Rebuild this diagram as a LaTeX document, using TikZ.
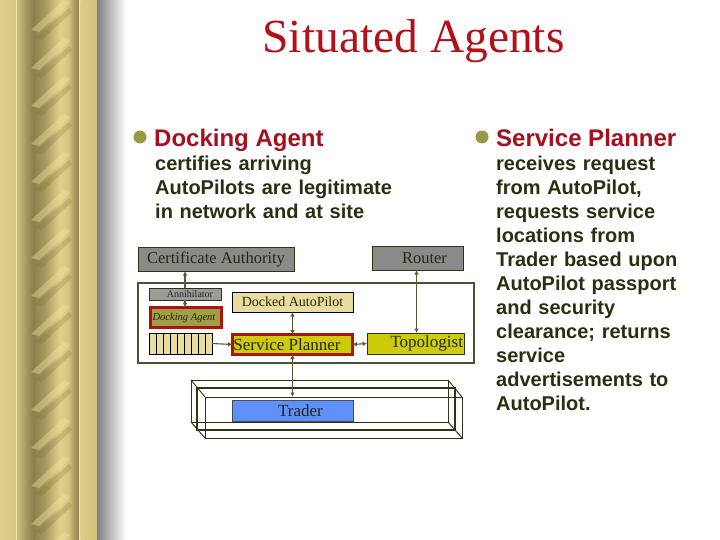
\documentclass[tikz,border=0pt]{standalone}
\usepackage{fontspec}
\setmainfont{Liberation Serif}
\newfontfamily\arialfont{Liberation Sans}
\usetikzlibrary{arrows.meta}
\definecolor{titlered}{RGB}{180,16,24}
\definecolor{headred}{RGB}{165,15,30}
\definecolor{bodytxt}{RGB}{45,45,18}
\definecolor{bulletolive}{RGB}{153,153,68}
\definecolor{boxgray}{RGB}{138,138,138}
\definecolor{anngray}{RGB}{155,155,155}
\definecolor{dockolive}{RGB}{160,158,70}
\definecolor{redborder}{RGB}{170,20,15}
\definecolor{tanfill}{RGB}{233,220,160}
\definecolor{spyellow}{RGB}{204,204,10}
\definecolor{traderblue}{RGB}{95,143,250}
\definecolor{frameline}{RGB}{50,50,20}
\definecolor{contline}{RGB}{80,80,55}
\definecolor{arrowcol}{RGB}{90,90,55}
\definecolor{dtext}{RGB}{40,40,15}
\definecolor{gA}{HTML}{DCCF8C}
\definecolor{gB}{HTML}{D6C883}
\definecolor{gLine}{HTML}{EFE5AD}
\definecolor{gC}{HTML}{CBBD7A}
\definecolor{gD}{HTML}{8C7F4A}
\definecolor{gE}{HTML}{A89A5E}
\definecolor{gF}{HTML}{E0D28C}
\definecolor{gG}{HTML}{D4C581}
\definecolor{gH}{HTML}{8F824E}
\definecolor{gI}{HTML}{DCCD88}
\definecolor{gJ}{HTML}{CFC07A}
\definecolor{streaklight}{HTML}{F0E3A4}
\definecolor{streakdark}{HTML}{6F6438}
\tikzset{
  dbox/.style={inner sep=0pt, outer sep=0pt, text=dtext},
  graybox/.style={dbox, draw=frameline, line width=0.8pt, fill=boxgray, font=\fontsize{16.5}{18}\selectfont},
  annbox/.style={dbox, draw=frameline, line width=0.6pt, fill=anngray, font=\fontsize{10}{11}\selectfont},
  redbox/.style={dbox, draw=redborder, line width=3pt},
  tanbox/.style={dbox, draw=black, line width=0.8pt, fill=tanfill},
  contbox/.style={dbox, draw=contline, line width=1.5pt, fill=white},
  olivebox/.style={dbox, draw=frameline, line width=0.8pt, fill=spyellow, font=\fontsize{17}{19}\selectfont},
  bluebox/.style={dbox, draw=frameline!70!traderblue, line width=0.8pt, fill=traderblue, font=\fontsize{17}{19}\selectfont},
  frame3d/.style={draw=frameline, line width=1.6pt},
  frame3dthin/.style={draw=frameline, line width=0.9pt},
  conn/.style={draw=arrowcol, line width=1.1pt},
  arr/.style={conn, -{Latex[length=4.5pt,width=4.5pt]}},
  arrboth/.style={conn, {Latex[length=4.5pt,width=4.5pt]}-{Latex[length=4.5pt,width=4.5pt]}},
  headtext/.style={font=\arialfont\bfseries\fontsize{24}{28}\selectfont, text=headred, inner sep=0pt},
  bodytext/.style={font=\arialfont\bfseries\fontsize{20}{24}\selectfont, text=bodytxt, inner sep=0pt, align=left},
  bulletdot/.style={circle, fill=bulletolive, inner sep=0pt, minimum size=13pt}
}
\begin{document}
\begin{tikzpicture}[x=1pt,y=-1pt]
\useasboundingbox (0,0) rectangle (720,540);
\fill[white] (0,0) rectangle (720,540);
% ---- left decorative column ----
\shade[left color=gA,right color=gB] (0,0) rectangle (16,540);
\fill[gLine] (16,0) rectangle (17.2,540);
\shade[left color=gC,right color=gD] (17.2,0) rectangle (33,540);
\shade[left color=gD,right color=gE] (33,0) rectangle (45,540);
\shade[left color=gE,right color=gF] (45,0) rectangle (60,540);
\shade[left color=gF,right color=gG] (60,0) rectangle (68,540);
\shade[left color=gG,right color=gH] (68,0) rectangle (79,540);
\fill[gLine] (79,0) rectangle (80.5,540);
\shade[left color=gI,right color=gJ] (80.5,0) rectangle (97,540);
\shade[left color=black!50,right color=white] (97,0) rectangle (126,540);
\begin{scope}
  \clip (30,0) rectangle (72,540);
  \foreach \k in {0,...,15}{
    \fill[streakdark, opacity=0.22] (35,38*\k+38) -- (42,38*\k+40) -- (72,38*\k+12) -- (69,38*\k+8) -- cycle;
    \fill[streaklight, opacity=0.4] (31,38*\k+30) -- (39,38*\k+32) -- (70,38*\k+3) -- (64,38*\k) -- cycle;
  }
\end{scope}
% ---- title ----
\node[font=\fontsize{47.5}{56}\selectfont, text=titlered, anchor=base, inner sep=0pt] (title) at (413.5,53) {Situated Agents};
% ---- bullet texts ----
\node[bulletdot] (bul1) at (140,137) {};
\node[headtext, anchor=base west] (h1) at (154,147) {Docking Agent};
\node[bodytext, anchor=base west, text width=260pt] (b1) at (155,171) {certifies arriving\\AutoPilots are legitimate\\in network and at site};
\node[bulletdot] (bul2) at (482,137) {};
\node[headtext, anchor=base west] (h2) at (496,147) {Service Planner};
\node[bodytext, anchor=base west, text width=224pt] (b2) at (496,171) {receives request\\from AutoPilot,\\requests service\\locations from\\Trader based upon\\AutoPilot passport\\and security\\clearance; returns\\service\\advertisements to\\AutoPilot.};
% ---- 3D trader frame ----
\draw[frame3dthin] (191,380) rectangle (448,422);
\draw[frame3d] (197,388) rectangle (455,430);
\draw[frame3dthin] (205,397) rectangle (462,438);
\draw[frame3dthin] (191,380) -- (205,397);
\draw[frame3dthin] (448,380) -- (462,397);
\draw[frame3dthin] (191,422) -- (205,438);
\draw[frame3dthin] (448,422) -- (462,438);
\node[bluebox, minimum width=121pt, minimum height=21pt] (trader) at (292.5,410.5) {\hspace*{16pt}Trader};
\coordinate (tradertop) at (292.5,397);
% ---- diagram boxes ----
\node[graybox, minimum width=156pt, minimum height=24pt] (ca) at (216,259) {Certificate Authority};
\node[graybox, minimum width=91pt, minimum height=24pt] (router) at (417.5,258) {\hspace*{14pt}Router};
\node[contbox, minimum width=336pt, minimum height=80pt] (cont) at (306,323) {};
\node[annbox, minimum width=72pt, minimum height=12pt] (ann) at (185,294) {\hspace*{10pt}Annihilator};
\node[redbox, fill=dockolive, minimum width=71pt, minimum height=20pt, font=\itshape\fontsize{10.5}{12}\selectfont] (da) at (186,317.5) {Docking Agent\hspace*{4pt}};
\node[tanbox, minimum width=121pt, minimum height=20pt, font=\fontsize{14}{16}\selectfont] (dap) at (292.5,302) {Docked AutoPilot};
\node[tanbox, minimum width=63pt, minimum height=21pt] (queue) at (180.5,343.5) {};
\foreach \i in {1,...,8}{
  \draw[black, line width=0.6pt] (149+7*\i,333) -- (149+7*\i,354);
}
\node[redbox, fill=spyellow, minimum width=120pt, minimum height=20pt, font=\fontsize{17}{19}\selectfont] (sp) at (292.5,344.5) {Service Planner\hspace*{11pt}};
\node[olivebox, minimum width=97pt, minimum height=21pt, text width=95pt, align=right] (topo) at (415.5,343.5) {Topologist};
% ---- connectors ----
\draw[arr] (ann.north) -- (ann.north |- ca.south);
\draw[arr] (ann.south) -- (ann.south |- da.north);
\draw[arrboth] (dap.south) -- (sp.north);
\draw[arr] (queue.east) -- (sp.west);
\draw[arrboth] (sp.east) -- (topo.west);
\draw[arrboth] (router.south -| 416.5,0) -- (topo.north -| 416.5,0);
\draw[arrboth] (sp.south) -- (tradertop);
\end{tikzpicture}
\end{document}
